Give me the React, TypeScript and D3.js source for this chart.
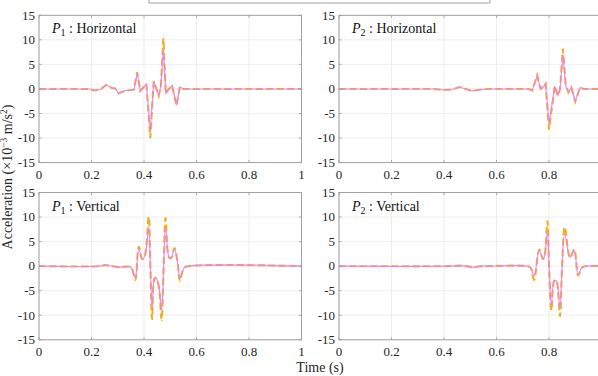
import React from "react";
import * as d3 from "d3";

// time samples (s) and accelerations (x10^-3 m/s^2)
const p1hTime = [0, 0.195, 0.207, 0.233, 0.256, 0.278, 0.29, 0.303, 0.329, 0.354, 0.362, 0.374, 0.386, 0.399, 0.409, 0.424, 0.437, 0.447, 0.456, 0.464, 0.474, 0.483, 0.49, 0.497, 0.507, 0.524, 0.537, 0.55, 1];
const p1hSolid = [0, 0, -0.3, -0.1, 0.8, 0.2, 0.1, -0.9, -0.3, -0.2, -0.1, 3.2, -0.4, 0.4, 1.0, -8.5, 1.5, 0.1, -1.3, 0.5, 8.0, -0.9, -0.3, 0.1, 0.8, -3.3, 0.4, 0, 0];
const p1hDashed = [0, 0, -0.3, -0.1, 0.8, 0.2, 0.1, -0.9, -0.3, -0.2, -0.1, 3.4, -0.4, 0.4, 1.1, -10.0, 1.6, 0.1, -1.4, 0.5, 10.3, -1.0, -0.3, 0.1, 0.7, -3.4, 0.5, 0, 0];

const p2hTime = [0, 0.36, 0.4, 0.43, 0.46, 0.482, 0.507, 0.545, 0.565, 0.725, 0.736, 0.755, 0.768, 0.776, 0.787, 0.8, 0.822, 0.834, 0.842, 0.853, 0.864, 0.874, 0.885, 0.9, 0.918, 0.932, 1];
const p2hSolid = [0, 0, -0.2, -0.1, 0.4, 0, -0.4, -0.1, 0, 0, -0.3, 2.6, 0, 0.3, 1.0, -7.0, 0.5, -1.3, 0, 7.0, 0.5, -0.6, 0.3, -2.5, 0.3, 0, 0];
const p2hDashed = [0, 0, -0.2, -0.1, 0.4, 0, -0.4, -0.1, 0, 0, -0.3, 2.8, 0, 0.3, 1.1, -8.3, 0.6, -1.4, 0, 8.2, 0.6, -0.7, 0.3, -2.6, 0.3, 0, 0];

const p1vTime = [0, 0.23, 0.252, 0.28, 0.303, 0.33, 0.345, 0.354, 0.367, 0.38, 0.393, 0.403, 0.418, 0.424, 0.431, 0.441, 0.45, 0.459, 0.467, 0.475, 0.482, 0.495, 0.503, 0.516, 0.529, 0.537, 0.552, 0.57, 1];
const p1vSolid = [0, 0, 0.2, 0, -0.2, -0.1, -0.1, -0.5, -2.5, 3.5, 1.5, 2.0, 8.0, 0.5, -8.5, -2.5, -2.8, -5.0, -9.0, 0, 7.8, 1.9, 1.6, 3.5, 0.3, -2.5, -0.4, 0, 0];
const p1vDashed = [0, 0, 0.2, 0, -0.2, -0.1, -0.1, -0.5, -2.8, 4.0, 1.4, 2.1, 10.1, 0.5, -10.8, -2.4, -2.8, -5.5, -11.0, 0, 9.8, 1.8, 1.6, 3.7, 0.3, -3.0, -0.4, 0, 0];

const p2vTime = [0, 0.42, 0.46, 0.485, 0.507, 0.545, 0.56, 0.717, 0.73, 0.743, 0.763, 0.777, 0.783, 0.794, 0.8, 0.809, 0.82, 0.828, 0.835, 0.842, 0.85, 0.86, 0.88, 0.896, 0.911, 0.925, 0.94, 1];
const p2vSolid = [0, 0, 0.1, 0, -0.2, 0, 0, 0, -0.3, -2.0, 3.2, 1.5, 2.0, 7.0, 0.5, -8.0, -3.0, -3.0, -5.0, -8.5, 0, 6.5, 1.8, 3.2, -1.8, -0.3, 0, 0];
const p2vDashed = [0, 0, 0.1, 0, -0.2, 0, 0, 0, -0.3, -2.8, 3.4, 1.4, 2.0, 9.2, 0.5, -9.0, -3.0, -2.8, -5.5, -10.2, 0, 8.0, 1.7, 3.4, -1.9, -0.3, 0, 0];

const xTicks = [0, 0.2, 0.4, 0.6, 0.8, 1];
const yTicks = [-15, -10, -5, 0, 5, 10, 15];

const panels = [
  { sub: "1", name: "Horizontal", time: p1hTime, solid: p1hSolid, dashed: p1hDashed, col: 0, row: 0 },
  { sub: "2", name: "Horizontal", time: p2hTime, solid: p2hSolid, dashed: p2hDashed, col: 1, row: 0 },
  { sub: "1", name: "Vertical", time: p1vTime, solid: p1vSolid, dashed: p1vDashed, col: 0, row: 1 },
  { sub: "2", name: "Vertical", time: p2vTime, solid: p2vSolid, dashed: p2vDashed, col: 1, row: 1 },
];

const width = 598;
const height = 376;
const lefts = [39, 339];
const tops = [15.3, 192.5];
const pw = 262.5;
const ph = 147.3;
const font = "Liberation Serif, DejaVu Serif, serif";
const axisColor = "#9a9a9a";
const gridColor = "#e8e8e8";
const textColor = "#262626";

function Panel({ p }) {
  const x0 = lefts[p.col];
  const y0 = tops[p.row];
  const xScale = d3.scaleLinear().domain([0, 1]).range([x0, x0 + pw]);
  const yScale = d3.scaleLinear().domain([-15, 15]).range([y0 + ph, y0]);
  const pts = p.time.map((t, i) => i);
  // horizontal traces are jagged in the original, vertical ones smooth
  const curve = p.row === 0 ? d3.curveLinear : d3.curveCatmullRom.alpha(0.5);
  const gen = (vals) =>
    d3.line<number>()
      .x((i) => xScale(p.time[i]))
      .y((i) => yScale(vals[i]))
      .curve(curve)(pts);

  return (
    <g>
      <rect x={x0} y={y0} width={pw} height={ph} fill="white" />
      {xTicks.map((t) => (
        <line key={"gx" + t} x1={xScale(t)} x2={xScale(t)} y1={y0} y2={y0 + ph} stroke={gridColor} strokeWidth={0.8} />
      ))}
      {yTicks.map((t) => (
        <line key={"gy" + t} x1={x0} x2={x0 + pw} y1={yScale(t)} y2={yScale(t)} stroke={gridColor} strokeWidth={0.8} />
      ))}
      <path d={gen(p.dashed)} fill="none" stroke="#EDB120" strokeWidth={2.1} strokeDasharray="7,3.5" />
      <path d={gen(p.solid)} fill="none" stroke="#EE82EE" strokeWidth={1.1} />
      <rect x={x0} y={y0} width={pw} height={ph} fill="none" stroke={axisColor} strokeWidth={0.9} />
      {xTicks.map((t) => (
        <g key={"tx" + t}>
          <line x1={xScale(t)} x2={xScale(t)} y1={y0 + ph} y2={y0 + ph - 2.6} stroke={axisColor} strokeWidth={0.8} />
          <line x1={xScale(t)} x2={xScale(t)} y1={y0} y2={y0 + 2.6} stroke={axisColor} strokeWidth={0.8} />
          {xScale(t) < width - 4 && (
            <text x={xScale(t)} y={y0 + ph + 16} textAnchor="middle" fontSize={13} fill={textColor} fontFamily={font}>
              {t}
            </text>
          )}
        </g>
      ))}
      {yTicks.map((t) => (
        <g key={"ty" + t}>
          <line x1={x0} x2={x0 + 2.6} y1={yScale(t)} y2={yScale(t)} stroke={axisColor} strokeWidth={0.8} />
          <line x1={x0 + pw} x2={x0 + pw - 2.6} y1={yScale(t)} y2={yScale(t)} stroke={axisColor} strokeWidth={0.8} />
          <text x={x0 - 4} y={yScale(t) + 4.3} textAnchor="end" fontSize={13} fill={textColor} fontFamily={font}>
            {t}
          </text>
        </g>
      ))}
      <text x={x0 + 13} y={y0 + 18} fontSize={14} fill="#111" fontFamily={font}>
        <tspan fontStyle="italic">P</tspan>
        <tspan fontSize={10} dy={3}>{p.sub}</tspan>
        <tspan dy={-3}>{" : " + p.name}</tspan>
      </text>
    </g>
  );
}

export default function App() {
  return (
    <div style={{ position: "fixed", left: 0, top: 0, width, height, overflow: "hidden", background: "white" }}>
      <svg width={width} height={height} style={{ display: "block" }}>
        <rect width={width} height={height} fill="white" />
        <rect x={149} y={-20} width={341} height={23} fill="white" stroke={axisColor} strokeWidth={0.9} />
        {panels.map((p, i) => (
          <Panel key={i} p={p} />
        ))}
        <text x={320} y={372} textAnchor="middle" fontSize={14} fill={textColor} fontFamily={font}>
          Time (s)
        </text>
        <text
          transform={`translate(12, 177) rotate(-90)`}
          textAnchor="middle"
          fontSize={14}
          fill={textColor}
          fontFamily={font}
        >
          {"Acceleration (×10"}
          <tspan fontSize={9.5} dy={-5}>−3</tspan>
          <tspan dy={5}>{" m/s"}</tspan>
          <tspan fontSize={9.5} dy={-5}>2</tspan>
          <tspan dy={5}>)</tspan>
        </text>
      </svg>
    </div>
  );
}
